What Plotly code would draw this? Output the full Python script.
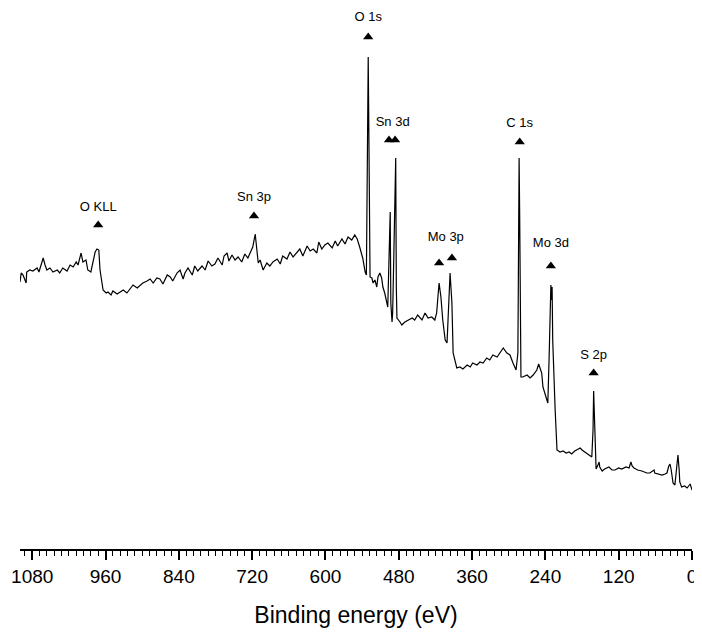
import plotly.graph_objects as go

# XPS survey spectrum
binding_energy = [
    1100, 1098, 1095, 1090, 1089, 1084, 1079, 1072, 1069, 1062, 1059, 1056, 1051, 1046,
    1039, 1035, 1030, 1023, 1018, 1013, 1008, 1005, 1000, 997, 992, 989, 984, 981, 977,
    974, 971, 969, 966, 964, 959, 956, 951, 948, 941, 936, 931, 925, 920, 915, 908, 904,
    899, 892, 887, 882, 876, 871, 866, 859, 854, 850, 843, 838, 833, 830, 825, 818, 814,
    809, 802, 797, 792, 786, 781, 776, 769, 766, 761, 758, 753, 748, 743, 737, 732, 727,
    722, 719, 715, 712, 710, 707, 702, 696, 691, 686, 679, 674, 670, 663, 658, 653, 647,
    642, 637, 630, 625, 620, 614, 611, 606, 601, 596, 589, 584, 580, 573, 568, 563, 557,
    552, 548, 544, 539, 535, 533, 530, 528, 527, 524, 522, 519, 516, 514, 511, 508, 506,
    503, 499, 498, 494, 493, 491, 490, 488, 485, 484, 483, 478, 475, 470, 465, 458, 454,
    449, 442, 437, 432, 426, 421, 418, 414, 411, 408, 404, 401, 399, 396, 393, 391, 385,
    380, 375, 368, 363, 359, 352, 347, 342, 336, 331, 326, 319, 314, 309, 303, 298, 293,
    288, 285, 283, 282, 280, 277, 270, 265, 260, 254, 251, 246, 244, 239, 236, 234, 231,
    230, 229, 228, 226, 224, 221, 216, 211, 206, 201, 197, 192, 187, 183, 180, 175, 169,
    164, 162, 161, 159, 157, 154, 152, 151, 147, 143, 136, 131, 126, 120, 115, 108, 103,
    100, 98, 95, 89, 82, 77, 74, 69, 62, 61, 54, 49, 44, 41, 38, 36, 34, 31, 28, 25, 23,
    21, 20, 17, 12, 8, 5, 3, 0,
]
intensity = [
    267, 276, 274, 266, 277, 279, 278, 281, 277, 291, 284, 279, 281, 277,
    279, 276, 281, 278, 284, 282, 287, 284, 296, 287, 289, 279, 277, 286, 297,
    300, 299, 279, 264, 259, 256, 257, 254, 258, 255, 257, 259, 256, 260, 264, 261, 263,
    266, 268, 270, 266, 271, 270, 265, 274, 272, 268, 276, 279, 270, 276, 281, 274, 283,
    278, 283, 279, 288, 283, 285, 291, 284, 293, 296, 288, 294, 289, 292, 287, 295, 291,
    297, 302, 315, 299, 286, 289, 279, 286, 283, 287, 290, 285, 293, 290, 297, 292, 296,
    300, 293, 303, 298, 300, 296, 307, 300, 304, 306, 301, 308, 303, 310, 305, 312, 309,
    314, 310, 302, 291, 277, 274, 492, 290, 272, 271, 266, 269, 262, 272, 276, 271, 262,
    256, 246, 242, 337, 246, 227, 236, 296, 391, 262, 231, 227, 224, 227, 229, 231, 229,
    234, 229, 236, 231, 232, 229, 236, 266, 252, 229, 209, 206, 229, 276, 246, 196, 181,
    182, 180, 184, 182, 186, 184, 187, 186, 191, 189, 194, 192, 197, 201, 196, 194, 186,
    179, 196, 391, 329, 172, 172, 174, 171, 174, 179, 185, 176, 162, 152, 146, 189, 264,
    249, 262, 209, 162, 139, 99, 97, 98, 96, 97, 95, 98, 100, 101, 99, 97, 94,
    92, 119, 158, 119, 80, 84, 87, 82, 78, 80, 82, 79, 79, 81, 80, 82, 81,
    87, 83, 81, 79, 78, 77, 76, 76, 79, 76, 75, 74, 75, 76, 83, 85, 79, 66, 64, 79, 94,
    79, 67, 62, 63, 61, 64, 65, 59,
]

# peak assignments: label, label position and triangle marker positions
peak_labels = ["O KLL", "Sn 3p", "O 1s", "Sn 3d", "Mo 3p", "C 1s", "Mo 3d", "S 2p"]
label_be = [972, 717, 530, 490, 403, 282, 231, 161]
label_int = [341, 351, 531, 426, 311, 425, 305, 193]
marker_be = [972, 717, 530, 496, 486, 414, 393, 282, 231, 161]
marker_int = [324, 333, 512, 409, 409, 286, 291, 407, 283, 176]

major_ticks = [1080, 960, 840, 720, 600, 480, 360, 240, 120, 0]

fig = go.Figure()
fig.add_trace(go.Scatter(
    x=binding_energy, y=intensity, mode="lines",
    line=dict(color="black", width=1.2),
))
fig.add_trace(go.Scatter(
    x=marker_be, y=marker_int, mode="markers",
    marker=dict(symbol="triangle-up", size=9, color="black"),
))
fig.add_trace(go.Scatter(
    x=label_be, y=label_int, mode="text", text=peak_labels,
    textfont=dict(size=13, color="black"), cliponaxis=False,
))

# the page adds an 8 px body margin, so the figure is a bit smaller than the window
fig.update_layout(
    width=694, height=624,
    margin=dict(l=12, r=10, t=0, b=83, autoexpand=False),
    plot_bgcolor="white", paper_bgcolor="white",
    showlegend=False,
    font=dict(family="Liberation Sans, Arial", color="black"),
)
fig.update_xaxes(
    range=[1100, 0], automargin=False,
    tickvals=major_ticks,
    ticks="outside", ticklen=9, tickwidth=1.5, tickcolor="black",
    minor=dict(dtick=12, tick0=0, ticks="outside", ticklen=5, tickwidth=1, tickcolor="black"),
    showline=True, linecolor="black", linewidth=2,
    showgrid=False, zeroline=False,
    tickfont=dict(size=19),
    title=dict(text="Binding energy (eV)", font=dict(size=23), standoff=21),
)
fig.update_yaxes(range=[0, 541], visible=False, automargin=False)

fig.write_html("out.html")
